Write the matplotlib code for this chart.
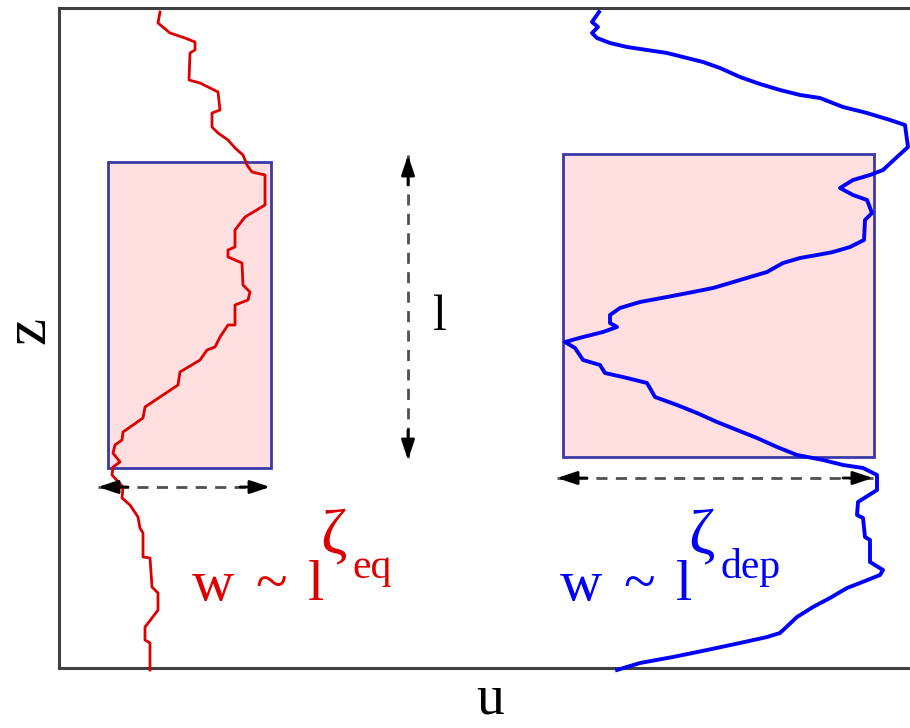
import matplotlib
matplotlib.use("Agg")
import matplotlib.pyplot as plt
from matplotlib.patches import Rectangle

# front profiles, (u, z) in frame units (z grows downwards)
eq_u = [160, 158, 170, 185, 195, 195, 190, 189, 200, 218, 220, 212, 212, 218, 228,
        235, 243, 247, 252, 265, 265, 245, 235, 235, 228, 228, 242, 243, 250, 248,
        235, 235, 228, 220, 215, 207, 200, 180, 178, 163, 145, 143, 123, 122, 115,
        113, 120, 113, 112, 123, 122, 130, 138, 140, 143, 143, 150, 152, 158, 158,
        152, 145, 145, 150, 150]
eq_z = [12, 23, 33, 38, 42, 50, 53, 80, 83, 92, 110, 113, 127, 133, 140,
        148, 155, 165, 172, 175, 205, 217, 230, 247, 250, 257, 263, 285, 292, 300,
        305, 325, 325, 337, 347, 350, 360, 372, 385, 395, 407, 418, 432, 440, 445,
        453, 462, 467, 475, 487, 498, 505, 517, 528, 533, 557, 558, 587, 593, 610,
        618, 627, 640, 643, 670]

dep_u = [599, 592, 598, 592, 597, 610, 627, 647, 667, 687, 703, 720, 740, 760, 780,
         800, 820, 843, 867, 890, 905, 908, 897, 883, 870, 853, 840, 853, 867, 872,
         865, 864, 850, 833, 817, 800, 783, 767, 750, 730, 713, 693, 667, 640, 620,
         610, 610, 617, 603, 583, 565, 575, 583, 600, 605, 627, 647, 655, 677, 697,
         717, 737, 757, 777, 797, 823, 843, 863, 877, 877, 858, 857, 863, 865, 870,
         870, 883, 880, 860, 847, 830, 813, 797, 780, 767, 740, 707, 673, 640, 617]
dep_z = [12, 22, 27, 33, 38, 43, 47, 50, 53, 58, 62, 68, 77, 84, 90,
         95, 98, 107, 113, 120, 125, 147, 157, 170, 175, 180, 188, 195, 200, 213,
         220, 240, 247, 252, 255, 258, 263, 272, 277, 283, 288, 292, 297, 302, 308,
         315, 323, 327, 332, 337, 342, 348, 360, 365, 373, 378, 383, 397, 405, 413,
         422, 430, 438, 447, 455, 460, 465, 468, 475, 490, 502, 515, 518, 537, 540,
         562, 570, 575, 583, 588, 598, 607, 617, 633, 637, 643, 650, 657, 663, 670]

# observation windows: (u_min, u_max, z_min, z_max)
eq_window = (108, 271, 162, 468)
dep_window = (563, 874, 154, 457)

# width arrows below each window and the window-size arrow
eq_width = (98, 270, 487)
dep_width = (557, 873, 478)
size_arrow = (408, 155, 460)

serif = "Liberation Serif"

fig = plt.figure(figsize=(9.1, 7.28), dpi=100)
ax = fig.add_axes([59 / 910, 60 / 728, 870 / 910, 660 / 728])
ax.set_xlim(59, 929)
ax.set_ylim(668, 8)
ax.set_xticks([])
ax.set_yticks([])
for side in ["left", "top", "bottom"]:
    ax.spines[side].set_linewidth(2.2)
    ax.spines[side].set_color("#404040")
ax.spines["right"].set_visible(False)

for (u0, u1, z0, z1) in [eq_window, dep_window]:
    ax.add_patch(Rectangle((u0, z0), u1 - u0, z1 - z0, facecolor="#ffdfdf",
                           edgecolor="#3a3aa8", linewidth=2.0, zorder=1))

ax.plot(eq_u, eq_z, color="#dd0000", linewidth=2.0, zorder=3, clip_on=False)
ax.plot(dep_u, dep_z, color="#0000ff", linewidth=2.8, zorder=3, clip_on=False)


def dashed_arrow(p0, p1):
    ax.plot([p0[0], p1[0]], [p0[1], p1[1]], linestyle=(0, (4, 3)),
            color="#505050", linewidth=2.0, zorder=2)
    for a, b in [(p0, p1), (p1, p0)]:
        dx = (a[0] - b[0])
        dy = (a[1] - b[1])
        n = (dx ** 2 + dy ** 2) ** 0.5
        tail = (a[0] - 30 * dx / n, a[1] - 30 * dy / n)
        ax.annotate("", xy=a, xytext=tail,
                    arrowprops=dict(arrowstyle="-|>,head_length=1.2,head_width=0.4",
                                    color="black", linewidth=2.0,
                                    shrinkA=0, shrinkB=0), zorder=4)


dashed_arrow((eq_width[0], eq_width[2]), (eq_width[1], eq_width[2]))
dashed_arrow((dep_width[0], dep_width[2]), (dep_width[1], dep_width[2]))
dashed_arrow((size_arrow[0], size_arrow[1]), (size_arrow[0], size_arrow[2]))

ax.text(440, 318, "l", fontsize=36, family=serif, ha="center", va="center")


def scaling_law(u, z, color, sub):
    kw = dict(family=serif, color=color, ha="left", va="baseline")
    ax.text(u, z, "w", fontsize=42, **kw)
    ax.text(u + 63, z, "~", fontsize=42, **kw)
    ax.text(u + 116, z, "l", fontsize=42, **kw)
    ax.text(u + 128, z - 48, "\u03b6", fontsize=46, **kw)
    ax.text(u + 160, z - 22, sub, fontsize=30, **kw)


scaling_law(192, 600, "#dd0000", "eq")
scaling_law(560, 600, "#0000ff", "dep")

fig.text(30 / 910, 1 - 330 / 728, "z", fontsize=44, family=serif,
         rotation=90, ha="center", va="center")
fig.text(490 / 910, 1 - 713 / 728, "u", fontsize=40, family=serif,
         ha="center", va="baseline")

fig.savefig("out.png", dpi=100)
